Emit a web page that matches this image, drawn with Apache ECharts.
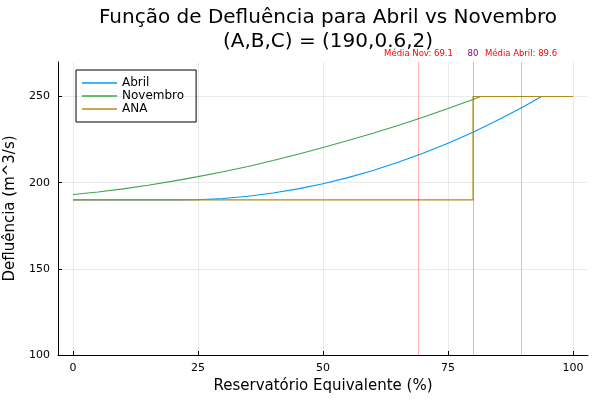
<!DOCTYPE html>
<html lang="pt-br">
<head>
    <meta charset="utf-8">
    <title>Função de Defluência</title>
    <script src="https://cdn.jsdelivr.net/npm/echarts@6/dist/echarts.min.js"></script>
    <style>
        html, body { margin: 0; padding: 0; background: #fff; }
        #main { width: 600px; height: 400px; }
    </style>
</head>
<body>
<div id="main"></div>
<script type="text/javascript">
    // dados
    var abrilX = [0, 5, 10, 15, 20, 25, 30, 35, 40, 45, 50, 55, 60, 65, 70, 75, 80, 85, 90, 93.7, 95, 100];
    var abrilY = [190, 190, 190, 190, 190, 190.1, 190.8, 192.1, 194.0, 196.4, 199.4, 202.9, 207.1, 211.8, 217.0, 222.9, 229.3, 236.3, 243.9, 250, 250, 250];

    var novX = [0, 5, 10, 15, 20, 25, 30, 35, 40, 45, 50, 55, 60, 65, 70, 75, 80, 81.5, 85, 90, 95, 100];
    var novY = [193.1, 194.6, 196.4, 198.5, 200.9, 203.5, 206.3, 209.4, 212.8, 216.5, 220.4, 224.5, 228.7, 233.2, 238.0, 243.0, 248.3, 250, 250, 250, 250, 250];

    var anaX = [0, 80, 80, 100];
    var anaY = [190, 190, 250, 250];

    var xTicks = [0, 25, 50, 75, 100];
    var yTicks = [100, 150, 200, 250];

    // linhas verticais: média Nov, limite ANA, média Abril
    var vLines = [
        { x: 69.1, label: 'Média Nov: 69.1', color: '#ff0000', line: 'rgba(255,0,0,0.3)' },
        { x: 80, label: '80', color: '#800080', line: 'rgba(128,0,128,0.3)' },
        { x: 89.6, label: 'Média Abril: 89.6', color: '#ff0000', line: 'rgba(255,0,0,0.3)' }
    ];

    function pares(xs, ys) {
        var out = [];
        for (var i = 0; i < xs.length; i++) {
            out.push([xs[i], ys[i]]);
        }
        return out;
    }

    var fonte = 'DejaVu Sans';
    var corGrade = 'rgba(0,0,0,0.08)';

    var myChart = echarts.init(document.getElementById('main'));
    var option = {
        animation: false,
        textStyle: { fontFamily: fonte },
        title: {
            text: 'Função de Defluência para Abril vs Novembro\n(A,B,C) = (190,0.6,2)',
            left: 323,
            top: 1,
            textAlign: 'center',
            textStyle: { fontFamily: fonte, fontSize: 20, fontWeight: 'normal', color: '#000', lineHeight: 24 }
        },
        legend: {
            orient: 'vertical',
            left: 76,
            top: 70,
            padding: [7, 12, 7, 6],
            itemGap: 1,
            itemWidth: 35,
            itemHeight: 1.5,
            icon: 'rect',
            borderColor: '#000',
            borderWidth: 1,
            borderRadius: 0,
            textStyle: { fontFamily: fonte, fontSize: 12, color: '#000', lineHeight: 12, padding: [0, 0, 0, 0] },
            data: ['Abril', 'Novembro', 'ANA']
        },
        grid: { left: 58, right: 12, top: 62, bottom: 45, outerBoundsMode: 'none', containLabel: false },
        xAxis: {
            type: 'value',
            min: -3,
            max: 103,
            name: 'Reservatório Equivalente (%)',
            nameLocation: 'middle',
            nameGap: 23,
            nameTextStyle: { fontFamily: fonte, fontSize: 15, color: '#000' },
            axisLine: { show: true, onZero: false, lineStyle: { color: '#000', width: 1 } },
            axisTick: { show: true, inside: true, length: 4, customValues: xTicks, lineStyle: { color: '#000' } },
            axisLabel: { customValues: xTicks, fontSize: 11, color: '#000', margin: 8 },
            splitLine: { show: true, lineStyle: { color: corGrade } }
        },
        yAxis: {
            type: 'value',
            min: 100,
            max: 270,
            name: 'Defluência (m^3/s)',
            nameLocation: 'middle',
            nameGap: 38,
            nameTextStyle: { fontFamily: fonte, fontSize: 15, color: '#000' },
            axisLine: { show: true, onZero: false, lineStyle: { color: '#000', width: 1 } },
            axisTick: { show: true, inside: true, length: 4, customValues: yTicks, lineStyle: { color: '#000' } },
            axisLabel: { customValues: yTicks, fontSize: 11, color: '#000', margin: 8 },
            splitLine: { show: true, lineStyle: { color: corGrade } }
        },
        series: [
            {
                name: 'Abril',
                type: 'line',
                data: pares(abrilX, abrilY),
                symbol: 'none',
                lineStyle: { color: '#009AFA', width: 1.1 },
                itemStyle: { color: '#009AFA' },
                z: 3
            },
            {
                name: 'Novembro',
                type: 'line',
                data: pares(novX, novY),
                symbol: 'none',
                lineStyle: { color: '#3EA44E', width: 1.1 },
                itemStyle: { color: '#3EA44E' },
                z: 3
            },
            {
                name: 'ANA',
                type: 'line',
                data: pares(anaX, anaY),
                symbol: 'none',
                lineStyle: { color: '#AC8E18', width: 1.1 },
                itemStyle: { color: '#AC8E18' },
                z: 3,
                markLine: {
                    silent: true,
                    symbol: 'none',
                    animation: false,
                    data: vLines.map(function (v) {
                        return {
                            xAxis: v.x,
                            lineStyle: { color: v.line, width: 1, type: 'solid' },
                            label: {
                                show: true,
                                position: 'end',
                                formatter: v.label,
                                color: v.color,
                                fontSize: 8.5,
                                fontFamily: fonte,
                                distance: 4
                            }
                        };
                    })
                }
            }
        ]
    };
    myChart.setOption(option);
</script>
</body>
</html>
